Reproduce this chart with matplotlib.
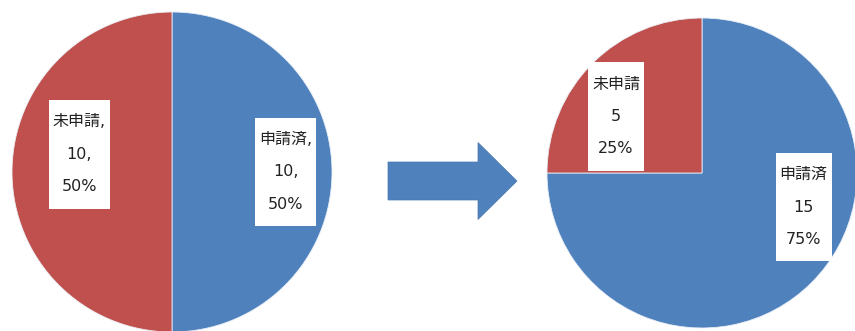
import matplotlib
matplotlib.use("Agg")
import matplotlib.pyplot as plt
import matplotlib.patches as mpatches

# digits from DejaVu (wide, like the original), kana/kanji fall back to Noto CJK
plt.rcParams["font.family"] = ["DejaVu Sans", "Noto Sans CJK JP"]

# ── Data ─────────────────────────────────────────────────────────────────────
categories = ["申請済", "未申請"]
before_vals = [10, 10]
after_vals = [15, 5]

# ── Style ────────────────────────────────────────────────────────────────────
COLORS = ["#4F81BD", "#C0504D"]
W, H = 855, 331

fig = plt.figure(figsize=(W / 100, H / 100), dpi=100)


def pie_axes(cx, cy, r):
    """Axes whose unit circle sits at pixel centre (cx, cy) with radius r."""
    return fig.add_axes([(cx - r) / W, (H - cy - r) / H, 2 * r / W, 2 * r / H])


def draw_pie(ax, vals, label_pos, sep):
    ax.pie(vals, colors=COLORS, startangle=90, counterclock=False,
           wedgeprops=dict(edgecolor="#e8eef6", linewidth=0.6))
    ax.set_xlim(-1, 1)
    ax.set_ylim(-1, 1)
    total = sum(vals)
    for name, v, (x, y) in zip(categories, vals, label_pos):
        pct = round(100 * v / total)
        txt = f"{name}{sep}\n{v}{sep}\n{pct}%"
        ax.text(x, y, txt, ha="center", va="center", fontsize=11.5,
                linespacing=2.45, color="#222222",
                bbox=dict(boxstyle="square,pad=0.25", mutation_aspect=3.6,
                          facecolor="white", edgecolor="none"))


ax1 = pie_axes(172, 172, 160)
draw_pie(ax1, before_vals, [(0.71, 0.0), (-0.58, 0.11)], ",")

ax2 = pie_axes(702, 173, 155)
draw_pie(ax2, after_vals, [(0.655, -0.22), (-0.555, 0.365)], "")

# arrow between the two pies, in pixel coordinates
ov = fig.add_axes([0, 0, 1, 1])
ov.set_xlim(0, W)
ov.set_ylim(H, 0)
ov.axis("off")
ov.add_patch(mpatches.FancyArrow(388, 181, 129, 0, width=38, head_width=77,
                                 head_length=39, length_includes_head=True,
                                 facecolor=COLORS[0], edgecolor="#4a78b0",
                                 linewidth=0.5))

fig.savefig("out.png", dpi=100)
